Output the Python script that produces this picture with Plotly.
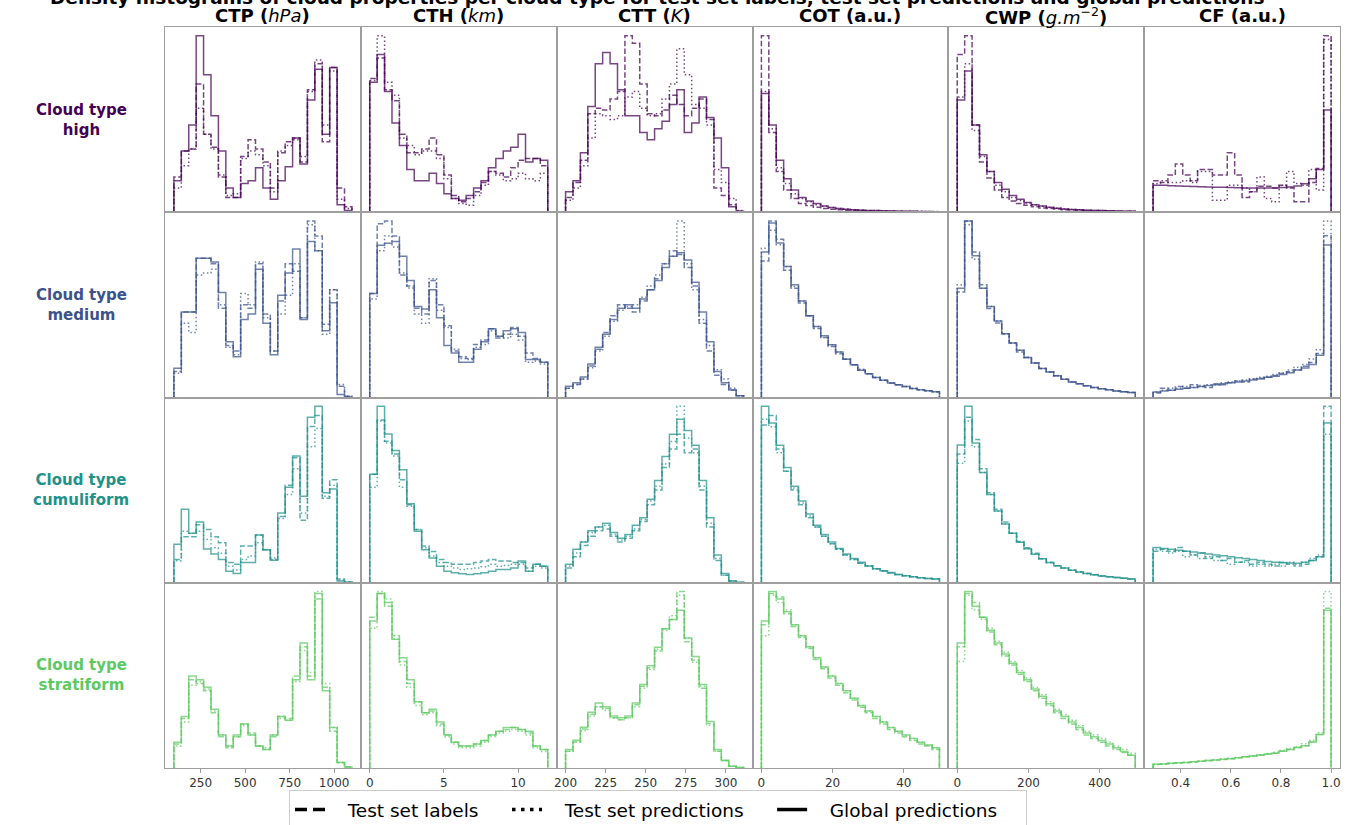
import numpy as np
import plotly.graph_objects as go
from plotly.subplots import make_subplots

# ---------------- data ----------------
variables = ["CTP", "CTH", "CTT", "COT", "CWP", "CF"]
col_titles = ["<b>CTP (</b><i>hPa</i><b>)</b>", "<b>CTH (</b><i>km</i><b>)</b>", "<b>CTT (</b><i>K</i><b>)</b>",
              "<b>COT (a.u.)</b>", "<b>CWP (</b><i>g.m</i><sup>−2</sup><b>)</b>", "<b>CF (a.u.)</b>"]
cloud_types = ["high", "medium", "cumuliform", "stratiform"]
bin_lo = [100, 0, 200, 0, 0, 0.29]
bin_hi = [1100, 12, 311, 50, 500, 1.0]
n_bins = 24
tick_vals = [[250, 500, 750, 1000], [0, 5, 10], [200, 225, 250, 275, 300], [0, 20, 40], [0, 200, 400], [0.4, 0.6, 0.8, 1.0]]
tick_text = [["250", "500", "750", "1000"], ["0", "5", "10"], ["200", "225", "250", "275", "300"],
             ["0", "20", "40"], ["0", "200", "400"], ["0.4", "0.6", "0.8", "1.0"]]
series_names = ["Test set labels", "Test set predictions", "Global predictions"]

# relative densities (per panel), order: labels / predictions / global
ctp_high_lab = [19, 33, 34, 69, 42, 35, 19, 8, 8, 30, 39, 34, 27, 13, 32, 38, 40, 27, 66, 80, 38, 78, 13, 3]
ctp_high_pred = [13, 25, 34, 56, 42, 34, 20, 9, 10, 29, 33, 31, 25, 11, 33, 36, 39, 30, 65, 82, 47, 76, 7, 2]
ctp_high_glob = [17, 33, 47, 95, 74, 52, 33, 13, 8, 15.5, 17, 24, 13, 7, 17, 24.5, 40, 26, 60.5, 77, 42, 78, 4, 1]
cth_high_lab = [72, 83, 66, 60, 42, 32, 32, 34, 40, 31, 20, 9, 5.6, 7.4, 11, 16, 22, 21, 19, 24, 28, 29, 29, 25]
cth_high_pred = [71, 95, 70, 63, 40, 36, 31, 33, 33, 29, 18, 7.4, 4.7, 3.8, 9, 14.6, 22, 20, 17, 18, 21, 18, 17, 21]
cth_high_glob = [70, 85, 65, 48, 36, 23, 17, 17, 21, 15.5, 10, 7.4, 6.5, 9, 13, 17, 24, 29, 33, 35, 42, 27, 29, 28]
ctt_high_lab = [8, 16, 28, 53, 56, 55, 61, 65, 95, 91, 69, 53, 52, 55, 63, 58, 52, 56, 61, 50, 13, 9, 4, 0.5]
ctt_high_pred = [6.5, 13, 25, 40, 53, 52, 50, 52, 62, 65, 56, 52, 53, 61, 69, 88, 74, 58, 56, 47, 23, 16, 7.4, 1]
ctt_high_glob = [11, 17, 32, 57, 80, 86, 80, 66, 52, 52, 43, 39, 45, 49, 58, 66, 43, 48, 62, 51, 40, 24, 3, 0.5]
cot_high_lab = [95, 43, 22, 12, 7.4, 4.7, 3.6, 2.7, 2, 1.6, 1.3, 1.1, 1, 0.9, 0.8, 0.7, 0.6, 0.5, 0.5, 0.4, 0.4, 0.3, 0.3, 0.3]
cot_high_pred = [65, 45, 24, 15.5, 10, 7.4, 5.6, 4, 3.2, 2.5, 2, 1.7, 1.4, 1.2, 1.0, 0.9, 0.8, 0.7, 0.6, 0.6, 0.5, 0.5, 0.4, 0.4]
cot_high_glob = [64, 47, 28, 18, 12, 8, 6, 4.7, 3.4, 2.5, 2, 1.6, 1.4, 1.1, 1, 0.9, 0.8, 0.7, 0.6, 0.5, 0.5, 0.4, 0.4, 0.3]
cwp_high_lab = [85, 95, 47, 27, 18.5, 12, 8, 6, 4.7, 3.8, 2.9, 2.3, 2, 1.7, 1.4, 1.2, 1.1, 1, 0.9, 0.8, 0.7, 0.6, 0.5, 0.5]
cwp_high_pred = [62, 80, 44, 30, 22, 14.6, 11, 8, 6.3, 5, 4, 3.2, 2.6, 2.1, 1.8, 1.5, 1.3, 1.1, 1, 0.9, 0.8, 0.7, 0.6, 0.5]
cwp_high_glob = [60.5, 76, 47, 31, 22, 16, 12.4, 9, 7, 5.2, 4, 3.4, 2.7, 2.2, 1.8, 1.5, 1.3, 1.1, 1, 0.9, 0.8, 0.7, 0.6, 0.5]
cf_high_lab = [17, 16, 20, 26, 20, 17, 23, 23, 20, 20, 32, 20, 8, 11, 14, 14, 13, 14.6, 13, 5.6, 5.6, 16, 23.6, 95]
cf_high_pred = [15.5, 17, 16, 16, 17, 16, 22, 22, 6.5, 6.5, 14.6, 14.6, 13, 11, 19, 7.4, 5.6, 14.6, 22, 15.5, 14.6, 23, 12, 93]
cf_high_glob = [14.6, 14.5, 14.3, 14.2, 14, 13.9, 13.7, 13.6, 13.5, 13.4, 13.3, 13.2, 13.1, 13.1, 13.0, 13.0, 13.1, 13.3, 13.6, 14.2, 15.3, 18, 23, 55]

ctp_medium_lab = [14, 46, 46, 75, 75, 72, 48, 28, 25, 50, 48, 72, 45, 25, 52, 72, 68, 43, 95, 87, 39.5, 58, 6, 0.7]
ctp_medium_pred = [13, 40, 35, 66, 67, 69, 50, 27, 23, 56, 50, 73, 43, 25, 45, 55, 72, 43, 93, 79, 34, 58, 7, 0.7]
ctp_medium_glob = [15.7, 46, 46, 75, 75, 73, 56.6, 30, 22, 42, 45, 69, 40, 23, 55, 67, 80, 42, 84, 79, 36, 51, 1.6, 0.3]
cth_medium_lab = [56, 93.5, 95, 87, 66, 60, 48, 45, 63, 50, 38.6, 25, 22, 21, 28.6, 31, 37, 32, 34, 37.7, 33, 24, 21, 19]
cth_medium_pred = [53, 79, 87, 81, 67, 59, 45, 40, 64, 47, 37.7, 26, 21, 20.5, 27, 28.6, 36, 33, 32, 34, 31, 19, 19.6, 18]
cth_medium_glob = [56, 82, 83, 84, 76, 63, 49, 47.6, 58, 43, 28, 24, 19, 19, 26, 30, 37, 33, 36, 37, 35, 20.5, 20.5, 19]
ctt_medium_lab = [5, 7, 10, 17, 26, 35, 44, 50, 48, 46, 52, 58, 64, 72, 79, 77, 70, 60, 40, 25, 12, 7, 4, 1]
ctt_medium_pred = [5, 7, 10, 16, 25, 33, 41, 47, 49, 50, 54, 60, 66, 72, 76, 95, 72, 58, 42, 28, 15, 10, 5, 1]
ctt_medium_glob = [6, 8, 11, 18, 27, 34, 42, 48, 50, 48, 53, 58, 63, 70, 76, 78, 74, 62, 46, 30, 14, 8, 4, 1]
cot_medium_lab = [75, 97, 87, 70, 60, 52, 45, 38, 33, 28, 24, 21, 18, 15, 13, 11, 9.5, 8, 7, 6, 5, 4.3, 3.7, 3.2]
cot_medium_pred = [82, 92, 84, 72, 61, 53, 45, 39, 33, 29, 25, 21, 18, 15.5, 13, 11, 9.5, 8, 7, 6, 5, 4.3, 3.7, 3.2]
cot_medium_glob = [80, 96, 85, 72, 62, 53, 45, 39, 34, 29, 25, 21, 18, 15, 13, 11, 9.5, 8, 7, 6, 5, 4.3, 3.7, 3.2]
cwp_medium_lab = [58, 97, 80, 62, 49, 41, 35, 30, 25, 22, 19, 16, 14, 12, 10, 8.5, 7.5, 6.5, 5.5, 4.8, 4.2, 3.6, 3.2, 2.8]
cwp_medium_pred = [62, 95, 76, 60, 50, 42, 35, 30, 26, 22, 19, 16, 14, 12, 10, 8.5, 7.5, 6.5, 5.5, 4.8, 4.2, 3.6, 3.2, 2.8]
cwp_medium_glob = [60, 97, 78, 60, 50, 42, 35, 30, 26, 22, 19, 16, 14, 12, 10, 8.5, 7.5, 6.5, 5.5, 4.8, 4.2, 3.6, 3.2, 2.8]
cf_medium_lab = [2.5, 5, 4, 6, 5, 7, 6, 5.5, 7.5, 7, 8, 9, 8.5, 10, 10.5, 11, 12, 13, 14, 15, 17, 19, 24, 88]
cf_medium_pred = [3, 4, 5, 5, 6, 5.5, 6.5, 7, 7, 8, 8.5, 9, 9.5, 10, 11, 11.5, 12.5, 13.5, 15, 16.5, 18, 21, 26, 96]
cf_medium_glob = [3, 3.5, 4, 4.5, 5, 5.5, 6, 6.5, 7, 7.5, 8, 8.5, 9, 9.5, 10, 11, 11.5, 12.5, 13.5, 15, 16, 18, 23, 83]

ctp_cumuliform_lab = [12.7, 25, 25, 31.6, 29, 25, 21.7, 11, 10, 20, 20, 26, 18, 12.7, 36, 53, 68, 34, 85, 91, 46, 56, 2, 0.4]
ctp_cumuliform_pred = [12, 28, 27, 28, 23.5, 19, 16, 9, 7, 12.7, 14.5, 21.7, 18, 13.5, 35, 48, 62, 38, 74, 84, 47, 53, 1.4, 0.4]
ctp_cumuliform_glob = [21, 40, 27, 33, 18.4, 15.7, 12.7, 6.3, 5, 11, 11, 26, 18, 12.3, 38, 52, 69, 47, 90, 96, 49, 51, 1, 0.4]
cth_cumuliform_lab = [59, 88.6, 77, 70, 56, 42.5, 29, 20, 17, 12.7, 11, 10, 10, 10, 11, 11.8, 12.7, 11.8, 11.8, 11, 11, 8, 10, 9]
cth_cumuliform_pred = [52, 88, 76, 69, 52, 41.6, 29, 19, 14.5, 11, 9, 8, 7.2, 7.6, 8, 8.7, 10, 9, 9.4, 10, 10, 6.3, 9, 8]
cth_cumuliform_glob = [59, 96, 81, 72, 61.5, 43, 28, 18, 13.5, 9, 6.3, 5.4, 4.9, 4.5, 4.9, 5.4, 6.3, 7.2, 7.2, 8, 11.8, 6.3, 10, 9]
ctt_cumuliform_lab = [8, 14, 20, 25, 28, 29, 25, 22, 24, 28, 33, 42, 50, 62, 72, 80, 70, 72, 50, 30, 12, 4, 1, 0.3]
ctt_cumuliform_pred = [9, 16, 22, 27, 30, 31, 26, 23, 25, 29, 34, 44, 52, 64, 76, 95, 78, 70, 52, 32, 13, 4, 1, 0.3]
ctt_cumuliform_glob = [10, 18, 22, 28, 30, 32, 27, 24, 26, 31, 35, 45, 55, 68, 80, 88, 82, 74, 55, 35, 15, 5, 1, 0.3]
cot_cumuliform_lab = [85, 90, 72, 60, 50, 42, 35, 30, 25, 21, 18, 15, 12.5, 10.5, 9, 7.5, 6.3, 5.3, 4.5, 3.8, 3.2, 2.7, 2.3, 2]
cot_cumuliform_pred = [88, 84, 70, 60, 51, 43, 36, 30, 25, 21, 18, 15, 12.5, 10.5, 9, 7.5, 6.3, 5.3, 4.5, 3.8, 3.2, 2.7, 2.3, 2]
cot_cumuliform_glob = [95, 86, 74, 62, 52, 44, 37, 31, 26, 22, 18.5, 15.5, 13, 11, 9, 7.5, 6.5, 5.5, 4.5, 3.8, 3.2, 2.7, 2.3, 2]
cwp_cumuliform_lab = [70, 90, 78, 62, 49, 40, 33, 27, 22.5, 19, 16, 13, 11, 9.3, 8, 6.8, 5.8, 5, 4.3, 3.7, 3.2, 2.8, 2.4, 2]
cwp_cumuliform_pred = [65, 88, 74, 60, 48, 39, 32, 27, 22, 18.5, 15.5, 13, 11, 9.3, 8, 6.8, 5.8, 5, 4.3, 3.7, 3.2, 2.8, 2.4, 2]
cwp_cumuliform_glob = [75, 96, 76, 60, 48, 39, 32, 27, 22, 18.5, 15.5, 13, 11, 9.3, 8, 6.8, 5.8, 5, 4.3, 3.7, 3.2, 2.8, 2.4, 2]
cf_cumuliform_lab = [17, 18, 17, 19, 17, 15, 16, 13, 14, 12, 13, 11, 12, 10, 11, 10, 9, 11, 10, 9, 10, 12, 14, 95]
cf_cumuliform_pred = [18, 17, 16, 17, 14, 15, 13, 14, 12, 12, 10, 11, 11, 9, 10, 9, 10, 9, 11, 10, 11, 13, 15, 80]
cf_cumuliform_glob = [19, 18.5, 18, 17.5, 17, 16.5, 16, 15.5, 15, 14.5, 14, 13.5, 13, 12.5, 12, 11.5, 11, 10.8, 10.6, 10.5, 11, 12, 14, 86]

ctp_stratiform_lab = [13, 27, 48, 46, 42, 30, 17, 11, 17, 24, 19, 12, 10, 17, 28, 27, 50, 66, 50, 92, 44, 20, 3, 0.5]
ctp_stratiform_pred = [12, 25, 45, 47, 43, 31, 18, 12, 17, 23, 18, 12, 11, 18, 27, 26, 47, 64, 52, 96, 46, 22, 3, 0.5]
ctp_stratiform_glob = [14, 28, 50, 48, 44, 32, 18, 12, 18, 24, 18, 12, 10, 18, 28, 26, 48, 68, 48, 95, 42, 22, 3, 0.5]
cth_stratiform_lab = [82, 95, 88, 72, 58, 46, 36, 30, 31, 24, 18, 14, 12, 12, 13, 15, 18, 20, 21, 22, 21, 19, 12, 10]
cth_stratiform_pred = [76, 96, 92, 70, 56, 44, 34, 29, 30, 23, 17, 13, 11, 11, 12, 14, 17, 19, 20, 21, 20, 18, 11, 9]
cth_stratiform_glob = [80, 95, 90, 70, 60, 48, 36, 30, 32, 25, 18, 14, 12, 12, 13, 15, 18, 20, 22, 22, 21, 20, 12, 10]
ctt_stratiform_lab = [9, 14, 21, 29, 33, 32, 27, 26, 27, 34, 44, 54, 63, 75, 80, 95, 68, 58, 43, 24, 9, 4, 1, 0.3]
ctt_stratiform_pred = [9, 14, 20, 28, 33, 31, 27, 26, 27, 33, 43, 53, 64, 74, 82, 93, 70, 57, 44, 23, 9, 4, 1, 0.3]
ctt_stratiform_glob = [10, 15, 22, 30, 35, 33, 28, 27, 28, 35, 45, 55, 65, 75, 80, 85, 70, 60, 45, 25, 10, 4, 1, 0.3]
cot_stratiform_lab = [78, 95, 93, 84, 77, 71, 65, 59, 54, 49, 45, 41, 37, 33, 30, 27, 24, 21, 19, 17, 15, 13, 12, 10]
cot_stratiform_pred = [72, 94, 90, 86, 78, 72, 66, 60, 55, 50, 46, 42, 38, 34, 31, 28, 25, 22, 20, 18, 16, 14, 12.5, 11]
cot_stratiform_glob = [80, 96, 92, 85, 78, 72, 66, 60, 55, 50, 46, 42, 38, 34, 31, 28, 25, 22, 20, 18, 16, 14, 12.5, 11]
cwp_stratiform_lab = [66, 95, 90, 82, 74, 67, 61, 56, 51, 47, 42, 38, 34, 30, 27, 24, 21, 18, 16, 14, 12, 10, 8.5, 7]
cwp_stratiform_pred = [58, 94, 86, 81, 76, 69, 63, 58, 53, 49, 44, 40, 36, 32, 29, 26, 23, 20, 18, 16, 14, 12, 10, 8]
cwp_stratiform_glob = [68, 96, 88, 82, 75, 68, 62, 57, 52, 48, 43, 39, 35, 31, 28, 25, 22, 19, 17, 15, 13, 11, 9, 7]
cf_stratiform_lab = [2, 2.3, 2.5, 2.8, 3, 3.2, 3.6, 4, 4.3, 4.6, 5, 5.5, 6, 6.5, 7, 7.5, 8, 9, 10, 11, 12, 14, 18, 86]
cf_stratiform_pred = [1.8, 2, 2.3, 2.6, 3, 3.3, 3.6, 4, 4.4, 4.8, 5.2, 5.6, 6, 6.6, 7.2, 7.8, 8.5, 9.5, 10.5, 11.5, 13, 15, 19, 95]
cf_stratiform_glob = [2, 2.2, 2.5, 2.8, 3, 3.3, 3.6, 4, 4.3, 4.7, 5, 5.5, 6, 6.5, 7, 7.5, 8, 9, 10, 11, 12, 14, 18, 85]

# ---------------- figure ----------------
row_colors = ["#440154", "#3b528b", "#21918c", "#5ec962"]
dash_styles = ["5.5px,2.4px", "1.5px,2.5px", "solid"]
legend_dash = ["12px,6px", "3.5px,5.5px", "solid"]

W, H = 1357, 825
ML, MR, MT, MB = 165, 17, 27, 57
fig = make_subplots(rows=4, cols=6, horizontal_spacing=0, vertical_spacing=0)

g = globals()
for r, ct in enumerate(cloud_types):
    for c, var in enumerate(variables):
        edges = np.linspace(bin_lo[c], bin_hi[c], n_bins + 1)
        key = var.lower() + "_" + ct
        panel = [g[key + "_lab"], g[key + "_pred"], g[key + "_glob"]]
        ymax = max(max(s) for s in panel)
        for s, vals in enumerate(panel):
            xs = [edges[0]] + list(edges[:-1]) + [edges[-1], edges[-1]]
            ys = [0] + list(vals) + [vals[-1], 0]
            fig.add_trace(go.Scatter(
                x=xs, y=ys, mode="lines", line_shape="hv",
                line=dict(color=row_colors[r], width=1.5, dash=dash_styles[s]),
                opacity=0.72, showlegend=False, hoverinfo="skip"),
                row=r + 1, col=c + 1)
        span = bin_hi[c] - bin_lo[c]
        fig.update_xaxes(range=[bin_lo[c] - 0.05 * span, bin_hi[c] + 0.05 * span],
                         showline=True, mirror=True, linecolor="#9e9e9e", linewidth=1,
                         showgrid=False, zeroline=False,
                         tickvals=tick_vals[c], ticktext=tick_text[c],
                         ticks="outside" if r == 3 else "", ticklen=4, tickcolor="#9e9e9e",
                         showticklabels=(r == 3),
                         tickfont=dict(family="DejaVu Sans", size=12, color="#333333"),
                         row=r + 1, col=c + 1)
        fig.update_yaxes(range=[0, ymax * 1.05], showline=True, mirror=True,
                         linecolor="#9e9e9e", linewidth=1, showgrid=False, zeroline=False,
                         showticklabels=False, ticks="", row=r + 1, col=c + 1)

# legend entries
nb = "\u00a0"
for s, name in enumerate(series_names):
    fig.add_trace(go.Scatter(x=[None], y=[None], mode="lines", name=nb * 3 + name + nb * 4,
                             line=dict(color="black", width=3.5, dash=legend_dash[s]),
                             showlegend=True))

pw = W - ML - MR
ph = H - MT - MB


def px_x(x):
    return (x - ML) / pw


def px_y(y):
    return (H - MB - y) / ph


annotations = []
annotations.append(dict(
    text="<b>Density histograms of cloud properties per cloud type for test set labels, test set predictions and global predictions</b>",
    x=px_x(657), y=px_y(-2), xref="paper", yref="paper", xanchor="center", yanchor="middle",
    showarrow=False, font=dict(family="DejaVu Sans", size=18.5, color="black")))
for c, t in enumerate(col_titles):
    annotations.append(dict(text=t, x=(c + 0.5) / 6, y=px_y(16), xref="paper", yref="paper",
                            xanchor="center", yanchor="middle", showarrow=False,
                            font=dict(family="DejaVu Sans", size=18, color="black")))
for r, ct in enumerate(cloud_types):
    annotations.append(dict(text="<b>Cloud type<br>" + ct + "</b>", x=px_x(81),
                            y=1 - (r + 0.5) / 4, xref="paper", yref="paper",
                            xanchor="center", yanchor="middle", align="center", showarrow=False,
                            font=dict(family="DejaVu Sans", size=15, color=row_colors[r])))

fig.update_layout(
    width=W, height=H, margin=dict(l=ML, r=MR, t=MT, b=MB, autoexpand=False),
    paper_bgcolor="white", plot_bgcolor="white",
    annotations=annotations,
    showlegend=True,
    legend=dict(orientation="h", xref="container", yref="container",
                x=658 / W, xanchor="center", y=1 - 790 / H, yanchor="top",
                bordercolor="#cccccc", borderwidth=1, bgcolor="white",
                font=dict(family="DejaVu Sans", size=18.5, color="black"),
                itemwidth=30, tracegroupgap=0),
)

fig.write_html("out.html", config={"displayModeBar": False},
               post_script="document.body.style.margin='0';document.body.style.overflow='hidden';")
